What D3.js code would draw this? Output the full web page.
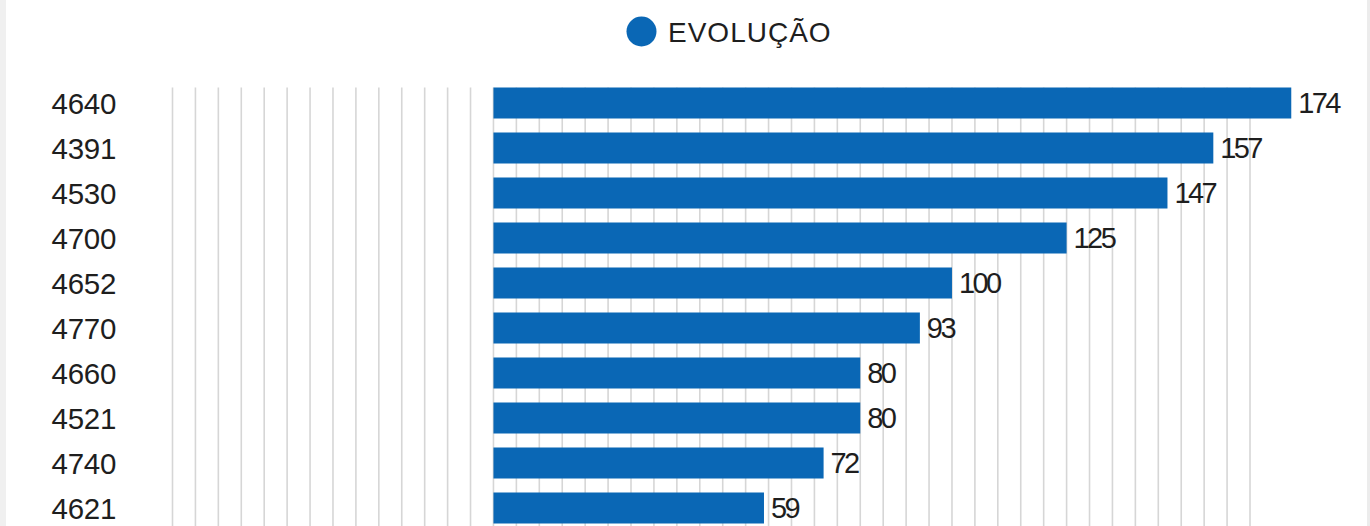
<!DOCTYPE html>
<html>
<head>
<meta charset="utf-8">
<script src="https://cdn.jsdelivr.net/npm/d3@7"></script>
<style>
  html, body { margin: 0; padding: 0; background: #ffffff; }
  svg { display: block; }
</style>
</head>
<body>
<script>
const categories = ["4640", "4391", "4530", "4700", "4652", "4770", "4660", "4521", "4740", "4621"];
const values = [174, 157, 147, 125, 100, 93, 80, 80, 72, 59];
const seriesName = "EVOLUÇÃO";
const gridTicks = d3.range(-70, 166, 5);

const W = 1370, H = 526;
const barColor = "#0a67b5";
const textColor = "#1e1e1e";
const font = "'Liberation Sans', Arial, Helvetica, sans-serif";

const svg = d3.select("body").append("svg")
  .attr("width", W).attr("height", H);

// page frame
svg.append("rect").attr("x", 0).attr("y", 0).attr("width", W).attr("height", H).attr("fill", "#ffffff");
svg.append("rect").attr("x", 0).attr("y", 0).attr("width", 6).attr("height", H).attr("fill", "#f0f0f0");
svg.append("rect").attr("x", 1367).attr("y", 0).attr("width", 3).attr("height", H).attr("fill", "#ececec");

const x = d3.scaleLinear().domain([-70, 165]).range([172.5, 1250]);
const y = d3.scaleBand().domain(categories).range([80.5, 530.5]).paddingInner(0.311).paddingOuter(0.1555);

// grid lines
svg.append("g").selectAll("line").data(gridTicks).join("line")
  .attr("x1", d => x(d)).attr("x2", d => x(d))
  .attr("y1", y(categories[0])).attr("y2", H)
  .attr("stroke", "#d6d6d6").attr("stroke-width", 1.6);

// bars
svg.append("g").selectAll("rect").data(values).join("rect")
  .attr("x", x(0))
  .attr("y", (d, i) => y(categories[i]))
  .attr("width", d => x(d) - x(0))
  .attr("height", y.bandwidth())
  .attr("fill", barColor);

// category labels
svg.append("g").selectAll("text").data(categories).join("text")
  .attr("x", 116)
  .attr("y", d => y(d) + y.bandwidth() / 2)
  .attr("dy", "0.36em")
  .attr("text-anchor", "end")
  .attr("font-family", font)
  .attr("font-size", 29.5)
  .attr("letter-spacing", -0.3)
  .attr("fill", textColor)
  .text(d => d);

// value labels
svg.append("g").selectAll("text").data(values).join("text")
  .attr("x", d => x(d) + 7)
  .attr("y", (d, i) => y(categories[i]) + y.bandwidth() / 2)
  .attr("dy", "0.36em")
  .attr("font-family", font)
  .attr("font-size", 29)
  .attr("letter-spacing", -2.6)
  .attr("fill", textColor)
  .text(d => d);

// legend
const lg = svg.append("g");
lg.append("circle").attr("cx", 641.5).attr("cy", 31.5).attr("r", 15).attr("fill", barColor);
lg.append("text").attr("x", 668).attr("y", 31.5).attr("dy", "0.36em")
  .attr("font-family", font).attr("font-size", 28).attr("letter-spacing", 1)
  .attr("fill", textColor).text(seriesName);
</script>
</body>
</html>
